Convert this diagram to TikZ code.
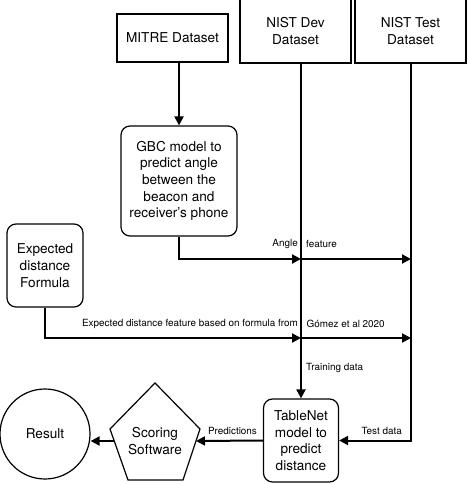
\documentclass[tikz,border=0pt]{standalone}
\usepackage{fontspec}
\setmainfont{TeX Gyre Heros}
\usetikzlibrary{arrows.meta}
\tikzset{
 box/.style={draw,line width=1.2pt,align=center,inner sep=2pt,font=\fontsize{13.6}{16.7}\selectfont},
 rbox/.style={box,rounded corners=9pt},
 flow/.style={line width=2pt,-{Triangle[length=9pt,width=9pt]}},
 lbl/.style={inner sep=0pt,font=\fontsize{9.9}{11}\selectfont},
}
\begin{document}
\begin{tikzpicture}[x=1pt,y=-1pt]
\useasboundingbox (0,0) rectangle (468,484);
% data sources
\node[box,minimum width=111pt,minimum height=48pt] (mitre) at (172.5,38) {MITRE Dataset};
\node[box,minimum width=111pt,minimum height=64pt] (dev) at (295.5,31) {NIST Dev\\Dataset};
\node[box,minimum width=111pt,minimum height=64pt] (test) at (410.5,31) {NIST Test\\Dataset};
% models
\node[rbox,minimum width=116pt,minimum height=110pt] (gbc) at (179,181) {GBC model to\\predict angle\\between the\\beacon and\\receiver's phone};
\node[rbox,minimum width=76pt,minimum height=83pt] (formula) at (45,265.5) {Expected\\distance\\Formula};
\node[rbox,minimum width=75pt,minimum height=83pt] (tablenet) at (301,440.5) {TableNet\\model to\\predict\\distance};
% scoring pentagon
\draw[line width=1.2pt] (155,383) -- (200,429) -- (183,480) -- (128,480) -- (110,429) -- cycle;
\node[box,draw=none] (scoring) at (155,441) {Scoring\\Software};
\coordinate (scE) at (196,441);
\coordinate (scW) at (114,441);
\node[box,circle,minimum size=90pt] (result) at (45,434) {Result};
% junctions
\coordinate (devA) at (301,259); \coordinate (tstA) at (411,259);
\coordinate (devE) at (301,338); \coordinate (tstE) at (411,338);

\draw[flow] (mitre.south -| gbc.north) -- (gbc.north);
\draw[flow] (gbc.south) |- (devA);
\draw[flow] (devA) -- (tstA);
\draw[flow] (formula.south) |- (devE);
\draw[flow] (devE) -- (tstE);
\draw[flow] (dev.south -| tablenet.north) -- (tablenet.north);
\draw[flow] (test.south) |- (tablenet.east);
\draw[flow] (tablenet.west) -- (scE);
\draw[flow] (scW) -- (scW -| result.east);

\node[lbl,anchor=east] (angl) at (298,244) {Angle};
\node[lbl,anchor=west] (feat) at (306,244) {feature};
\node[lbl,anchor=east] (expl) at (298,324) {Expected distance feature based on formula from};
\node[lbl,anchor=west] (gomez) at (306.5,324) {Gómez et al 2020};
\node[lbl,anchor=west] (train) at (306,368) {Training data};
\node[lbl,anchor=east] (testl) at (402,431) {Test data};
\node[lbl] (pred) at (232.5,431) {Predictions};
\end{tikzpicture}
\end{document}
